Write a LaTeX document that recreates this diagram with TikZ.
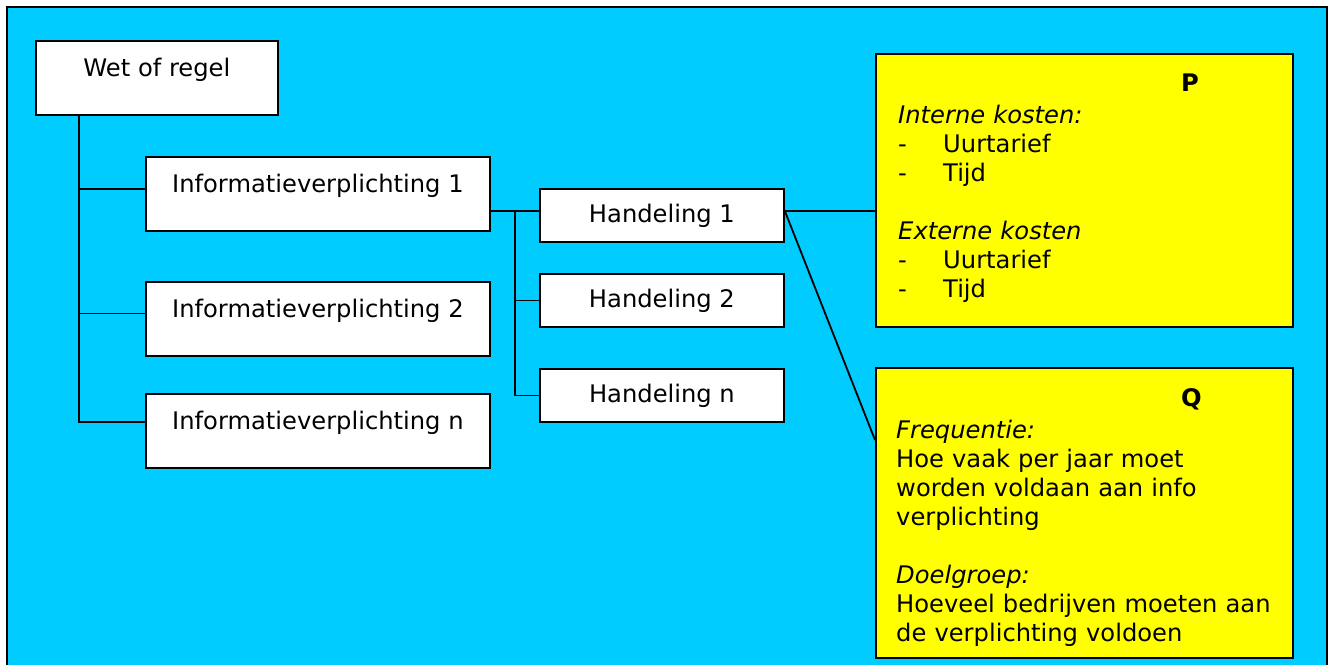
\documentclass[tikz,border=0pt]{standalone}
\usepackage{fontspec}
\setmainfont{DejaVu Sans}
\definecolor{bgblue}{RGB}{0,204,255}
\definecolor{noteyellow}{RGB}{255,255,0}
\tikzset{%
topbox/.style={draw,fill=white,line width=1.8pt,inner sep=0pt,anchor=north west,
    minimum width=#1,minimum height=74pt,text height=36pt,text depth=38pt},
handbox/.style={draw,fill=white,line width=1.8pt,inner sep=0pt,anchor=north west,
    minimum width=244pt,minimum height=53pt},
notebox/.style={draw,fill=noteyellow,line width=1.8pt,inner sep=0pt,anchor=north west,
    minimum width=417pt,minimum height=#1},
notetext/.style={anchor=base west,inner sep=0pt,text width=392pt,align=left},
link/.style={line width=1.8pt},
}
\newcommand{\dashitem}[1]{\makebox[45pt][l]{-}#1}

\begin{document}
\begin{tikzpicture}[x=1pt,y=-1pt,font=\fontsize{24.2}{29}\selectfont]
        \useasboundingbox (0,0) rectangle (1332,664);
        \draw[fill=bgblue,line width=1.8pt] (7,7) rectangle (1327,690);
        % boxes
        \node[topbox=242pt] (wet) at (35,40) {Wet of regel};
        \node[topbox=344pt] (info1) at (145,156) {Informatieverplichting 1};
        \node[topbox=344pt] (info2) at (145,281) {Informatieverplichting 2};
        \node[topbox=344pt] (infon) at (145,393) {Informatieverplichting n};
        \node[handbox] (hand1) at (539,188) {Handeling 1};
        \node[handbox] (hand2) at (539,273) {Handeling 2};
        \node[handbox] (handn) at (539,368) {Handeling n};
        \node[notebox=273pt] (pbox) at (875,53) {};
        \node[notebox=290pt] (qbox) at (875,367) {};
        \node[notetext] (ptext) at ([xshift=23pt,yshift=-38.5pt]pbox.north west)
            {\hspace*{283pt}\textbf{P}\\[3pt]
             \textit{Interne kosten:}\\
             \dashitem{Uurtarief}\\
             \dashitem{Tijd}\\[29pt]
             \textit{Externe kosten}\\
             \dashitem{Uurtarief}\\
             \dashitem{Tijd}};
        \node[notetext] (qtext) at ([xshift=21pt,yshift=-39.5pt]qbox.north west)
            {\hspace*{285pt}\textbf{Q}\\[3pt]
             \textit{Frequentie:}\\
             Hoe vaak per jaar moet\\
             worden voldaan aan info\\
             verplichting\\[29pt]
             \textit{Doelgroep:}\\
             Hoeveel bedrijven moeten aan\\
             de verplichting voldoen};
        % connectors
        \coordinate (trunk) at ([xshift=44pt]wet.south west);
        \draw[link] (trunk) |- ([yshift=9pt]infon.west);
        \draw[link] ([yshift=5pt]info1.west) -| (trunk);
        \draw[link] ([yshift=5.5pt]info2.west) -| (trunk);
        \coordinate (h1in) at ([yshift=4.5pt]hand1.west);
        \coordinate (hsplit) at ([xshift=-24pt]h1in);
        \draw[link] (h1in) -- (h1in -| info1.east);
        \draw[link] (hsplit) |- (handn.west);
        \draw[link] (hand2.west) -- (hand2.west -| hsplit);
        \coordinate (h1out) at ([yshift=4.5pt]hand1.east);
        \draw[link] (h1out) -- (h1out -| pbox.west);
        \draw[link] (h1out) -- ([yshift=-73pt]qbox.north west);
\end{tikzpicture}
\end{document}
